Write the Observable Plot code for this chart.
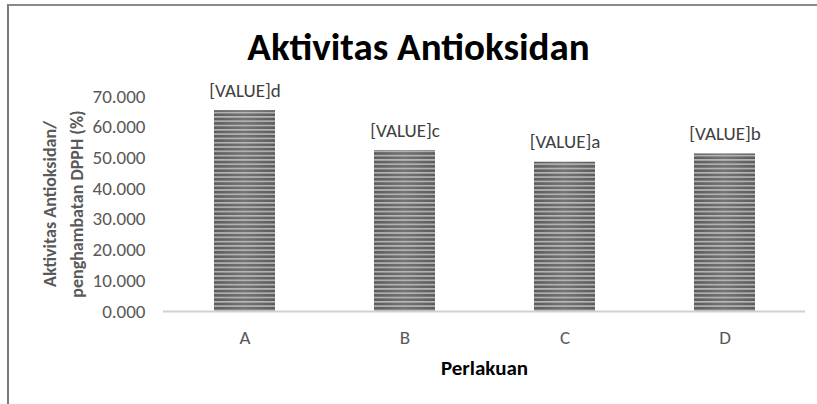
<!DOCTYPE html>
<html><head><meta charset="utf-8">
<script src="https://cdn.jsdelivr.net/npm/d3@7"></script>
<script src="https://cdn.jsdelivr.net/npm/@observablehq/plot@0.6"></script>
<style>
html,body{margin:0;padding:0;background:#fff;}
#wrap{position:relative;width:817px;height:404px;overflow:hidden;background:#fff;}
#frame{position:absolute;left:7px;top:4px;width:900px;height:500px;border-left:2px solid #7a7a7a;border-top:2px solid #8a8a8a;}
#chart{position:absolute;left:0;top:0;}
</style></head><body>
<div id="wrap"><div id="frame"></div><div id="chart"></div></div>
<script>
const categories = ["A", "B", "C", "D"];
const values = [65.4, 52.4, 48.6, 51.3];
const letters = ["d", "c", "a", "b"];
const yTicks = [0, 10, 20, 30, 40, 50, 60, 70];
const title = "Aktivitas Antioksidan";
const xTitle = "Perlakuan";
const yTitle = ["Aktivitas Antioksidan/", "penghambatan DPPH (%)"];

const data = categories.map((c, i) => ({cat: c, value: values[i], label: "[VALUE]" + letters[i]}));
const FONT = "Carlito, Calibri, Lato, sans-serif";

const chart = Plot.plot({
  width: 817, height: 404,
  marginLeft: 163, marginRight: 12, marginTop: 96, marginBottom: 93,
  style: {fontFamily: FONT, fontSize: "19px", color: "#595959", background: "transparent", overflow: "visible"},
  x: {domain: categories, paddingInner: 0.62, paddingOuter: 0.31, label: null, tickSize: 0, tickPadding: 19},
  y: {domain: [0, 70], ticks: yTicks, tickSize: 0, tickPadding: 18, tickFormat: d3.format(".3f"), label: null},
  marks: [
    Plot.barY(data, {x: "cat", y: "value", fill: "url(#barGrad)"}),
    Plot.barY(data, {x: "cat", y: "value", fill: "url(#barStripes)"}),
    Plot.ruleY([0], {stroke: "#d0d0d0", strokeWidth: 2}),
    Plot.text(data, {x: "cat", y: "value", text: "label", dy: -20, lineAnchor: "middle", fontSize: 19, fill: "#404040"}),
    Plot.text([title], {frameAnchor: "top", dx: -66, dy: -49, lineAnchor: "middle", fontSize: 39, fontWeight: "bold", fill: "#000"}),
    Plot.text([xTitle], {frameAnchor: "bottom", dy: 57, lineAnchor: "middle", fontSize: 21, fontWeight: "bold", fill: "#000"}),
    Plot.text([yTitle.join("\n")], {frameAnchor: "left", textAnchor: "middle", rotate: -90, dx: -103, lineAnchor: "middle", lineHeight: 1.5, fontSize: 18, fontWeight: "bold", fill: "#595959"})
  ]
});
document.getElementById("chart").appendChild(chart);

const svgEl = chart.tagName.toLowerCase() === "svg" ? chart : chart.querySelector("svg");
const svg = d3.select(svgEl);
const defs = svg.insert("defs", ":first-child");
const g = defs.append("linearGradient").attr("id", "barGrad").attr("x1", 0).attr("x2", 1).attr("y1", 0).attr("y2", 0);
g.append("stop").attr("offset", 0).attr("stop-color", "#5c5c5c");
g.append("stop").attr("offset", 0.5).attr("stop-color", "#747474");
g.append("stop").attr("offset", 1).attr("stop-color", "#5c5c5c");
const p = defs.append("pattern").attr("id", "barStripes").attr("patternUnits", "userSpaceOnUse").attr("width", 8).attr("height", 4.3);
p.append("rect").attr("x", 0).attr("y", 0).attr("width", 8).attr("height", 1.6).attr("fill", "#c4c4c4").attr("fill-opacity", 0.85);
</script>
</body></html>
